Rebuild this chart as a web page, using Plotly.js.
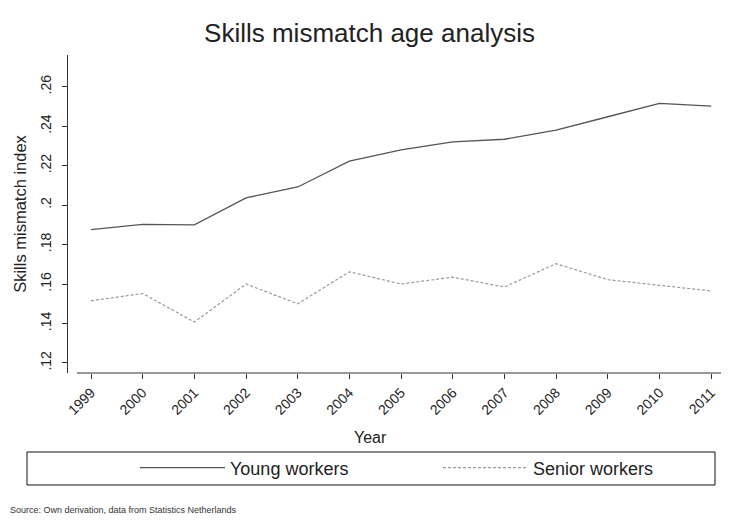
<!DOCTYPE html>
<html>
<head>
<meta charset="utf-8">
<script src="https://cdn.plot.ly/plotly-3.0.1.min.js"></script>
<style>html,body{margin:0;padding:0;background:#fff}#chart{width:739px;height:524px}</style>
</head>
<body>
<div id="chart"></div>
<script>
const years = [1999, 2000, 2001, 2002, 2003, 2004, 2005, 2006, 2007, 2008, 2009, 2010, 2011];
const youngWorkers = [0.1876, 0.1902, 0.1900, 0.2037, 0.2092, 0.2223, 0.2280, 0.2321, 0.2334, 0.2380, 0.2448, 0.2516, 0.2502];
const seniorWorkers = [0.1515, 0.1552, 0.1407, 0.1600, 0.1500, 0.1662, 0.1600, 0.1635, 0.1585, 0.1703, 0.1622, 0.1593, 0.1565];
const yTickVals = [0.12, 0.14, 0.16, 0.18, 0.20, 0.22, 0.24, 0.26];
const yTickText = ['.12', '.14', '.16', '.18', '.2', '.22', '.24', '.26'];
const seriesNames = ['Young workers', 'Senior workers'];

const font = 'Liberation Sans, Arial, sans-serif';
const traces = [
  {x: years, y: youngWorkers, name: seriesNames[0], type: 'scatter', mode: 'lines', legend: 'legend',
   line: {color: '#555555', width: 1.3}},
  {x: years, y: seniorWorkers, name: seriesNames[1], type: 'scatter', mode: 'lines', legend: 'legend2',
   line: {color: '#9a9a9a', width: 1.2, dash: '3px,2px'}}
];
const legendBase = {orientation: 'h', xanchor: 'left', y: -0.2987, yanchor: 'middle',
  bgcolor: 'rgba(0,0,0,0)', borderwidth: 0, itemwidth: 85,
  font: {family: font, size: 18, color: '#222'}};
const layout = {
  width: 739, height: 524,
  margin: {l: 68, r: 18, t: 55, b: 151},
  paper_bgcolor: '#ffffff', plot_bgcolor: '#ffffff',
  font: {family: font, color: '#222222', size: 14},
  title: {text: 'Skills mismatch age analysis', x: 0.5, xref: 'container', xanchor: 'center',
          y: 0.937, yref: 'container', yanchor: 'middle',
          font: {family: font, size: 26, color: '#222222'}},
  xaxis: {range: [1998.555, 2011.19], tickvals: years, ticktext: years.map(String),
          tickangle: -45, ticks: 'outside', ticklen: 5, tickcolor: '#333',
          showline: false, showgrid: false, zeroline: false,
          tickfont: {family: font, size: 14, color: '#222'}},
  yaxis: {range: [0.1149, 0.2761], tickvals: yTickVals, ticktext: yTickText,
          tickangle: -90, ticks: 'outside', ticklen: 5, tickcolor: '#333', ticklabelstandoff: 5,
          showline: true, linecolor: '#333', linewidth: 1, showgrid: false, zeroline: false,
          tickfont: {family: font, size: 14, color: '#222'},
          title: {text: 'Skills mismatch index', standoff: 7, font: {family: font, size: 16.5, color: '#222'}}},
  showlegend: true,
  legend: Object.assign({}, legendBase, {x: 0.1026}),
  legend2: Object.assign({}, legendBase, {x: 0.5666}),
  shapes: [
    {type: 'line', xref: 'x', yref: 'paper', x0: 1998.73, x1: 2011.19, y0: 0, y1: 0,
     line: {color: '#333', width: 1.2}},
    {type: 'rect', xref: 'paper', yref: 'paper', x0: -0.0628, x1: 0.9908, y0: -0.3522, y1: -0.2484,
     line: {color: '#111', width: 1}}
  ],
  annotations: [
    {text: 'Year', xref: 'paper', yref: 'paper', x: 0.4625, y: -0.2013,
     xanchor: 'center', yanchor: 'middle', showarrow: false,
     font: {family: font, size: 16, color: '#222'}},
    {text: 'Source: Own derivation, data from Statistics Netherlands', xref: 'paper', yref: 'paper',
     x: -0.092, y: -0.431, xanchor: 'left', yanchor: 'middle', showarrow: false,
     font: {family: font, size: 9, color: '#333'}}
  ]
};
Plotly.newPlot('chart', traces, layout, {displayModeBar: false, staticPlot: true});
</script>
</body>
</html>
